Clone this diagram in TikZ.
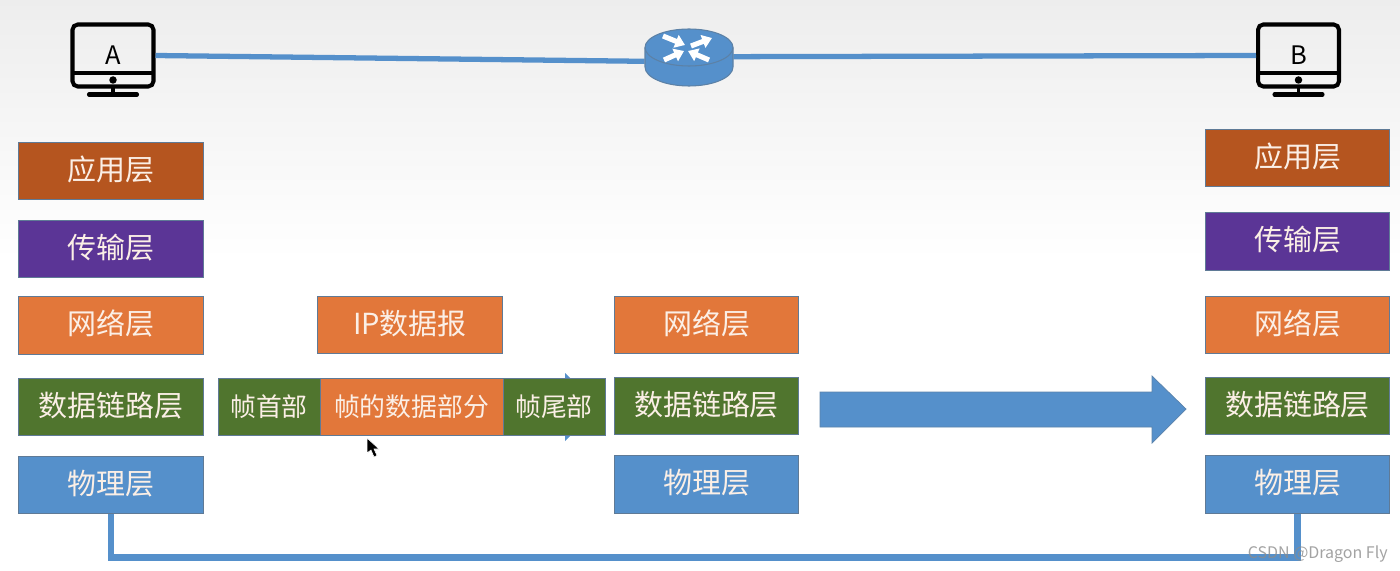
\documentclass[tikz,border=0pt]{standalone}
\usepackage{fontspec}
\setmainfont{Noto Sans CJK SC}
\usepackage{xcolor}
\usepackage{tikz}
\usetikzlibrary{arrows.meta, positioning, calc}
\definecolor{rust}{HTML}{B5551F}
\definecolor{violet}{HTML}{5B3596}
\definecolor{tangerine}{HTML}{E2773A}
\definecolor{moss}{HTML}{50752E}
\definecolor{steel}{HTML}{5590CB}
\definecolor{edge}{HTML}{5F7A96}
\definecolor{glyph}{HTML}{FBEFE6}
\tikzset{
  layer/.style={draw=edge, line width=0.8pt, text=glyph, inner sep=0pt, text height=13pt, text depth=2.4pt,
    minimum width=3.69cm, minimum height=1.15cm, font=\fontsize{16.5}{18}\selectfont},
  framepart/.style={layer, line width=0.5pt, text height=13pt, text depth=2pt, font=\fontsize{14.7}{16}\selectfont},
  link/.style={steel, line width=3pt},
  host/.style={draw=black, line width=2.3pt, rounded corners=3pt, inner sep=0pt,
    minimum width=1.62cm, minimum height=1.24cm, font=\fontsize{14.5}{15}\selectfont},
}
% monitor with its stand: #1 node name, #2 centre x, #3 label
\newcommand{\monitor}[3]{
  \begin{scope}[shift={(#2,0)}]
    \node[host] (#1) at (0,55.5) {#3};
    \draw[line width=2.3pt] (-41,73) -- (41,73);
    \fill (0,80) circle (0.075cm);
    \draw[line width=2pt] (0,88) -- (0,94);
    \draw[line width=2.3pt, line cap=round] (-24,94.5) -- (24,94.5);
  \end{scope}
}
\begin{document}
\begin{tikzpicture}[x=0.02cm, y=-0.02cm]
  \useasboundingbox (0,0) rectangle (1400,571);
  % page background ---------------------------------------------------
  \fill[white] (0,0) rectangle (1400,571);
  \shade[top color=black!7, bottom color=white] (0,0) rectangle (1400,260);

  % hosts and router --------------------------------------------------
  \monitor{hostA}{113}{A}
  \monitor{hostB}{1298.5}{B}
  \node[minimum width=1.76cm, minimum height=1.14cm, inner sep=0pt] (router) at (689,59) {};
  \draw[link] (hostA.east) -- (router.183);
  \draw[link] (router.3) -- (hostB.west);
  \draw[edge!70!steel, fill=steel, line width=0.6pt]
    (645,47.5) -- (645,67) arc[start angle=180, end angle=0, x radius=44, y radius=19]
    -- (733,47.5) arc[start angle=0, end angle=-180, x radius=44, y radius=18.5] -- cycle;
  \draw[edge!70!steel, line width=0.6pt]
    (645,47.5) arc[start angle=180, end angle=0, x radius=44, y radius=18.5];
  \foreach \xa/\ya/\xb/\yb in {663/36/685/45, 691/46/712/38, 664/60/684/51, 709/60/688/51} {
    \draw[white, line width=2.9pt, -{Triangle[length=5.5pt, width=7.5pt]}] (\xa,\ya) -- (\xb,\yb);
  }

  % arrows under the frame and towards B ------------------------------
  \fill[steel] (320,391) -- (565,391) -- (565,373) -- (600,407) -- (565,441) -- (565,425) -- (320,425) -- cycle;
  \fill[steel, draw=edge!60!steel, line width=0.4pt] (820,392) -- (1152,392) -- (1152,376) -- (1186,409)
    -- (1152,443) -- (1152,427) -- (820,427) -- cycle;

  % layer stacks ------------------------------------------------------
  \foreach \name/\x/\y/\col/\txt in {
      appA/111/171/rust/应用层, transA/111/249/violet/传输层, netA/111/325.5/tangerine/网络层,
      linkA/111/407/moss/数据链路层, phyA/111/485/steel/物理层,
      netR/706.5/325/tangerine/网络层, linkR/706.5/406/moss/数据链路层, phyR/706.5/484.5/steel/物理层,
      appB/1297.5/158/rust/应用层, transB/1297.5/241.5/violet/传输层, netB/1297.5/325/tangerine/网络层,
      linkB/1297.5/406/moss/数据链路层, phyB/1297.5/484.5/steel/物理层} {
    \node[layer, fill=\col] (\name) at (\x,\y) {\txt};
  }

  % IP datagram and frame ---------------------------------------------
  \node[layer, fill=tangerine] (packet) at (410,325) {IP数据报};
  \node[framepart, fill=moss, minimum width=2.04cm] (framehead) at (269,407) {帧首部};
  \node[framepart, fill=tangerine, minimum width=3.66cm] (framedata) at (411.5,407) {帧的数据部分\hspace{3pt}};
  \node[framepart, fill=moss, minimum width=2.04cm] (frametail) at (554,407) {帧尾部};

  % physical medium ---------------------------------------------------
  \draw[link, line width=3.9pt] (phyA.south) -- ++(0,43) -| (phyB.south);

  % pointer -----------------------------------------------------------
  \fill[black, draw=white, line width=0.3pt] (367,438) -- (367,453) -- (371,450) -- (374,457)
    -- (377,455.5) -- (374,449) -- (379,449) -- cycle;

  % watermark ---------------------------------------------------------
  \node[anchor=east, inner sep=0pt, text=black!45, opacity=0.8, font=\fontsize{9.1}{10}\selectfont] (mark) at (1388,554) {CSDN @Dragon Fly};
\end{tikzpicture}
\end{document}
